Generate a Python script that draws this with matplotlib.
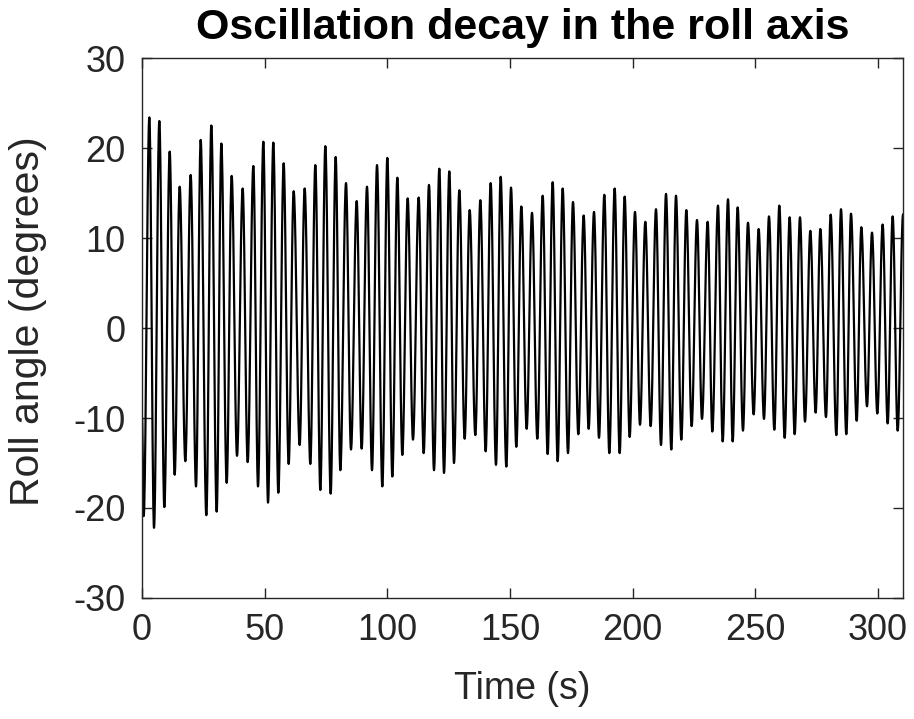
import numpy as np
import matplotlib
matplotlib.use("Agg")
import matplotlib.pyplot as plt

plt.rcParams['font.family'] = ['Liberation Sans', 'DejaVu Sans']
plt.rcParams['axes.unicode_minus'] = False

# times and values of each crest and trough
start_t, start_val = 0.0, -10.0

trough_t = [0.67, 4.88, 9.09, 13.30, 17.65, 22.00, 26.21, 30.42, 34.50, 38.71, 43.06, 47.27,
            51.35, 55.56, 59.77, 64.25, 68.60, 72.68, 76.89, 80.83, 85.18, 89.52, 93.74, 97.95,
            102.03, 106.10, 110.45, 114.80, 119.01, 123.09, 127.16, 131.51, 135.86, 140.07, 144.28, 148.50,
            152.57, 156.78, 161.13, 165.34, 169.42, 173.63, 177.84, 182.05, 186.27, 190.48, 194.69, 198.77,
            202.98, 207.33, 211.54, 215.75, 219.83, 224.04, 228.25, 232.46, 236.68, 240.75, 244.96, 249.31,
            253.52, 257.74, 261.95, 266.02, 270.24, 274.58, 278.79, 283.01, 287.08, 291.30, 295.51, 299.72,
            303.93, 308.01]
trough_val = [-20.9, -22.2, -19.9, -16.3, -14.8, -17.6, -20.8, -20.4, -17.2, -14.2, -14.9, -17.6,
              -19.4, -18.3, -15.1, -13.0, -15.1, -18.0, -18.4, -15.8, -13.5, -13.4, -15.8, -17.6,
              -16.5, -14.1, -12.4, -13.9, -15.8, -16.1, -15.0, -12.3, -11.9, -13.7, -15.2, -15.4,
              -13.2, -11.2, -12.3, -14.0, -14.8, -13.9, -11.8, -11.2, -12.2, -13.9, -13.9, -12.1,
              -10.75, -10.9, -13.0, -13.5, -12.4, -10.9, -10.1, -11.5, -12.6, -12.6, -11.4, -9.6,
              -10.1, -11.3, -12.2, -11.8, -10.4, -9.4, -9.9, -11.9, -11.8, -10.3, -8.7, -9.5,
              -10.6, -11.4]

peak_t = [2.98, 7.05, 11.27, 15.34, 19.82, 23.90, 28.25, 32.33, 36.54, 41.02, 45.37, 49.45,
          53.52, 57.73, 61.81, 66.29, 70.64, 74.72, 78.93, 83.14, 87.49, 91.70, 95.78, 99.99,
          104.07, 108.28, 112.76, 116.97, 121.18, 125.26, 129.34, 133.55, 137.90, 142.11, 146.18, 150.40,
          154.61, 158.96, 163.31, 167.38, 171.46, 175.67, 180.02, 184.23, 188.44, 192.65, 196.73, 200.94,
          205.15, 209.50, 213.58, 217.65, 221.87, 226.21, 230.56, 234.77, 238.85, 242.79, 247.00, 251.35,
          255.56, 259.77, 263.98, 268.20, 272.41, 276.49, 280.70, 284.91, 288.99, 293.20, 297.55, 301.89,
          305.97, 310.2]
peak_val = [23.4, 23.0, 19.6, 15.7, 17.0, 20.9, 22.5, 20.5, 16.9, 15.5, 18.0, 20.7,
            20.6, 18.3, 15.2, 15.5, 18.1, 20.2, 19.0, 16.1, 14.1, 15.7, 18.1, 18.9,
            16.7, 14.4, 14.5, 15.9, 17.7, 17.4, 15.3, 13.1, 14.2, 16.1, 16.8, 15.6,
            13.5, 12.8, 14.7, 16.2, 15.5, 14.0, 12.5, 12.9, 14.8, 15.5, 14.6, 12.9,
            11.8, 13.2, 14.9, 14.7, 13.1, 12.0, 11.8, 13.6, 14.3, 13.4, 11.7, 11.0,
            12.4, 13.6, 12.3, 12.3, 10.8, 11.0, 12.6, 13.2, 12.7, 11.2, 10.6, 11.5,
            12.4, 12.6]

# interleave extrema: start, trough, peak, trough, peak, ...
ext_t = [start_t]
ext_v = [start_val]
for tt, tv, pt, pv in zip(trough_t, trough_val, peak_t, peak_val):
    ext_t += [tt, pt]
    ext_v += [tv, pv]

# smooth swing between neighbouring extrema
t_all, y_all = [], []
for i in range(len(ext_t) - 1):
    s = np.linspace(0, 1, 20, endpoint=False)
    t_all.append(ext_t[i] + (ext_t[i + 1] - ext_t[i]) * s)
    y_all.append(ext_v[i] + (ext_v[i + 1] - ext_v[i]) * (1 - np.cos(np.pi * s)) / 2)
t_all.append([ext_t[-1]])
y_all.append([ext_v[-1]])
t_all = np.concatenate(t_all)
y_all = np.concatenate(y_all)

fig = plt.figure(figsize=(9.14, 7.19), dpi=100)
ax = fig.add_axes([0.1554, 0.1683, 0.8326, 0.7510])
ax.plot(t_all, y_all, color='black', linewidth=1.6)

ax.set_xlim(0, 310.2)
ax.set_ylim(-30, 30)
ax.set_xticks(np.arange(0, 301, 50))
ax.set_yticks(np.arange(-30, 31, 10))

edge = '#262626'
for sp in ax.spines.values():
    sp.set_color(edge)
    sp.set_linewidth(1.0)
ax.tick_params(direction='in', length=7, width=1.0, colors=edge, labelcolor='#262626',
               top=True, right=True, labelsize=26)
ax.tick_params(axis='x', pad=11)
ax.tick_params(axis='y', pad=12)

ax.set_xlabel('Time (s)', fontsize=27, color='#262626')
ax.set_ylabel('Roll angle (degrees)', fontsize=29.5, color='#262626')
ax.xaxis.set_label_coords(0.5, -0.135)
ax.yaxis.set_label_coords(-0.125, 0.513)
ax.set_title('Oscillation decay in the roll axis', fontsize=31, fontweight='bold', pad=14)

fig.savefig('out.png', dpi=100)
